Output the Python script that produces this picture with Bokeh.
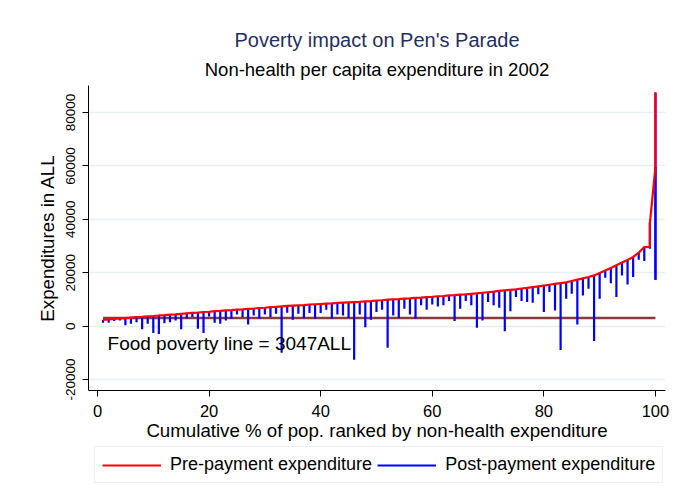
from bokeh.plotting import figure
from bokeh.layouts import column
from bokeh.models import Range1d, FixedTicker, Label, Legend, LegendItem, Title
from bokeh.embed import file_html
from bokeh.resources import INLINE

# ---- data ----
pct = [1, 2, 3, 4, 5, 6, 7, 8, 9, 10,
       11, 12, 13, 14, 15, 16, 17, 18, 19, 20,
       21, 22, 23, 24, 25, 26, 27, 28, 29, 30,
       31, 32, 33, 34, 35, 36, 37, 38, 39, 40,
       41, 42, 43, 44, 45, 46, 47, 48, 49, 50,
       51, 52, 53, 54, 55, 56, 57, 58, 59, 60,
       61, 62, 63, 64, 65, 66, 67, 68, 69, 70,
       71, 72, 73, 74, 75, 76, 77, 78, 79, 80,
       81, 82, 83, 84, 85, 86, 87, 88, 89, 90,
       91, 92, 93, 94, 95, 96, 97, 98, 99, 99, 100, 100]

pre_payment = [2300, 2500, 2700, 2900, 3000, 3200, 3400, 3500, 3700, 3800,
               4000, 4100, 4300, 4400, 4600, 4800, 5000, 5100, 5300, 5400,
               5600, 5700, 5900, 6000, 6200, 6300, 6500, 6600, 6800, 6900,
               7100, 7200, 7400, 7600, 7700, 7800, 7900, 8100, 8200, 8300,
               8400, 8500, 8700, 8800, 8900, 9000, 9100, 9300, 9400, 9600,
               9700, 9900, 10000, 10100, 10300, 10400, 10600, 10700, 10900, 11000,
               11200, 11300, 11500, 11600, 11800, 11900, 12100, 12300, 12500, 12700,
               12900, 13200, 13400, 13600, 13800, 14100, 14300, 14600, 14900, 15200,
               15500, 15800, 16100, 16400, 16900, 17400, 17900, 18400, 19000, 19900,
               20800, 21800, 22800, 23800, 24800, 25900, 27500, 29600, 29800, 38500,
               59600, 87500]

post_payment = [1300, 1300, 1900, 2100, 300, 900, 1500, -1200, 900, -2600,
                -2900, 1100, 1500, 2100, -1200, 2900, 3400, -1000, -2600, 3600,
                1300, 900, 2100, 2800, 4400, 3400, 600, 4000, 2800, 4400,
                3400, 4600, -10000, 5000, 2400, 4600, 3100, 4900, 2800, 4900,
                6100, 2800, 4400, 4000, 3100, -12600, 4400, -400, 2400, 5300,
                6100, -8100, 4000, 3100, 6500, 4400, 2800, 7800, 6100, 8100,
                7400, 7800, 9400, 1900, 6500, 9400, 7800, -600, 2100, 9000,
                7800, 6900, -1900, 5600, 10900, 9400, 9000, 8800, 11900, 5300,
                12800, 5900, -8900, 10300, 12100, 600, 11500, 14000, -5600, 10300,
                18100, 16100, 10900, 19000, 15600, 18400, 24900, 24400, 29000, 30300,
                17400, 17400]

poverty_line = 3047
poverty_x = [1, 100]

x_ticks = [0, 20, 40, 60, 80, 100]
x_tick_labels = ["0", "20", "40", "60", "80", "100"]
y_ticks = [-20000, 0, 20000, 40000, 60000, 80000]
y_tick_labels = ["-20000", "0", "20000", "40000", "60000", "80000"]
series_names = ["Pre-payment expenditure", "Post-payment expenditure"]
series_colors = ["#ff0000", "#0000ff"]

FONT = "Liberation Sans"


def draw_series(fig):
    """Draw both series from the data arrays; returns (pre, post) renderers."""
    post_r = fig.segment(x0=pct, y0=pre_payment, x1=pct, y1=post_payment,
                         line_color=series_colors[1], line_width=2.2)
    pre_r = fig.line(pct, pre_payment, line_color=series_colors[0], line_width=2.2)
    return pre_r, post_r


p = figure(frame_width=577, frame_height=305, output_backend="svg",
           toolbar_location=None,
           x_range=Range1d(-1.61, 101.8), y_range=Range1d(-24090, 90100),
           min_border_left=88, min_border_right=10, min_border_top=85,
           min_border_bottom=56)
p.outline_line_color = None
p.background_fill_color = "white"
p.border_fill_color = "white"

# grid
p.xgrid.visible = False
p.ygrid.ticker = FixedTicker(ticks=y_ticks)
p.ygrid.grid_line_color = "#e6eff1"
p.ygrid.grid_line_width = 1.5

# axes
p.xaxis.ticker = FixedTicker(ticks=x_ticks)
p.yaxis.ticker = FixedTicker(ticks=y_ticks)
p.xaxis.major_label_overrides = dict(zip(x_ticks, x_tick_labels))
p.yaxis.major_label_overrides = dict(zip(y_ticks, y_tick_labels))
for ax in (p.xaxis[0], p.yaxis[0]):
    ax.axis_line_color = "black"
    ax.axis_line_width = 1
    ax.major_tick_line_color = "black"
    ax.major_tick_out = 6
    ax.major_tick_in = 0
    ax.minor_tick_line_color = None
    ax.major_label_text_font = FONT
    ax.major_label_text_color = "black"
    ax.axis_label_text_font = FONT
    ax.axis_label_text_font_style = "normal"
    ax.axis_label_text_color = "black"
    ax.axis_label_text_font_size = "18.7px"

p.xaxis.major_label_text_font_size = "16.5px"
p.xaxis.major_label_standoff = 8
p.xaxis.axis_label = "Cumulative % of pop. ranked by non-health expenditure"
p.xaxis.axis_label_standoff = 0

p.yaxis.major_label_text_font_size = "13.5px"
p.yaxis.major_label_orientation = "vertical"
p.yaxis.major_label_standoff = 7
p.yaxis.axis_label = "Expenditures in ALL"
p.yaxis.axis_label_standoff = 6

# titles (subtitle added first so it sits closest to the plot)
p.add_layout(Title(text="Non-health per capita expenditure in 2002", align="center",
                   text_font=FONT, text_font_size="18.5px", text_font_style="normal",
                   text_color="black", standoff=12), "above")
p.add_layout(Title(text="Poverty impact on Pen's Parade", align="center",
                   text_font=FONT, text_font_size="20px", text_font_style="normal",
                   text_color="#1f2f5f", standoff=0), "above")

# glyphs
p.line(poverty_x, [poverty_line] * len(poverty_x), line_color="#8b3a3a",
       line_width=2.5)
draw_series(p)

# poverty line annotation
p.add_layout(Label(x=1.8, y=-6480, text=f"Food poverty line = {poverty_line}ALL",
                   text_font=FONT, text_font_size="19px", text_color="black",
                   text_baseline="middle", text_align="left"))

# ---- legend strip (separate small figure under the chart; its ranges keep the
#      series themselves out of view so only the legend keys show) ----
p2 = figure(width=675, height=50, output_backend="svg", toolbar_location=None,
            x_axis_type=None, y_axis_type=None,
            x_range=Range1d(-20, -10), y_range=Range1d(-1, 0),
            min_border_left=0, min_border_right=0, min_border_top=0,
            min_border_bottom=0)
p2.outline_line_color = None
p2.grid.visible = False
p2.background_fill_color = "white"
p2.border_fill_color = "white"
key_pre, key_post = draw_series(p2)

legend = Legend(items=[LegendItem(label=series_names[0], renderers=[key_pre]),
                       LegendItem(label=series_names[1], renderers=[key_post])],
                orientation="horizontal", location=(6, 13))
legend.label_text_font = FONT
legend.label_text_font_size = "18px"
legend.label_text_color = "black"
legend.glyph_width = 59
legend.glyph_height = 20
legend.label_standoff = 9
legend.spacing = 5
legend.padding = 7
legend.margin = 0
legend.border_line_color = "#d9e6e9"
legend.border_line_width = 1
legend.background_fill_color = "white"
legend.background_fill_alpha = 1
p2.add_layout(legend, "center")

layout = column(p, p2, spacing=0)
open("out.html", "w").write(file_html(layout, INLINE))
